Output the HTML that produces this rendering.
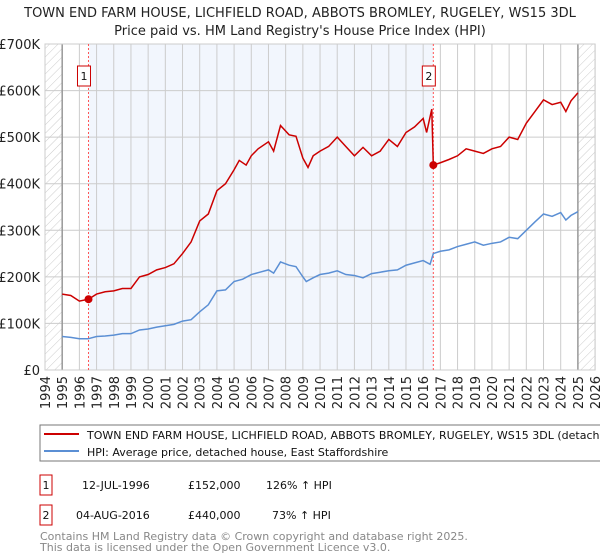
<!DOCTYPE html>
<html><head><meta charset="utf-8"><style>
body{margin:0;width:600px;height:560px;background:#fff;font-family:"Liberation Sans","DejaVu Sans",sans-serif;overflow:hidden}
svg{position:absolute;left:0;top:0}
</style></head><body>
<svg width="600" height="560" xmlns="http://www.w3.org/2000/svg" font-family="DejaVu Sans, Liberation Sans, sans-serif">
<defs><pattern id="hatch" width="6" height="6" patternUnits="userSpaceOnUse" patternTransform="rotate(45)"><line x1="0" y1="0" x2="0" y2="6" stroke="#ccc" stroke-width="1"/></pattern></defs>
<text x="300" y="17" text-anchor="middle" font-size="13" fill="#222">TOWN END FARM HOUSE, LICHFIELD ROAD, ABBOTS BROMLEY, RUGELEY, WS15 3DL</text>
<text x="300" y="35" text-anchor="middle" font-size="13" fill="#222">Price paid vs. HM Land Registry's House Price Index (HPI)</text>
<g id="plot"></g>
<g>
<rect x="40" y="425" width="570" height="36" fill="#fff" stroke="#777"/>
<line x1="44" y1="434" x2="79" y2="434" stroke="#cc0000" stroke-width="2"/>
<text x="87" y="439" font-size="11" fill="#111">TOWN END FARM HOUSE, LICHFIELD ROAD, ABBOTS BROMLEY, RUGELEY, WS15 3DL (detached</text>
<line x1="44" y1="451" x2="79" y2="451" stroke="#5b8fd4" stroke-width="2"/>
<text x="87" y="456" font-size="11" fill="#111">HPI: Average price, detached house, East Staffordshire</text>
</g>
<g font-size="11" fill="#111">
<rect x="40" y="475" width="12" height="20" fill="#fff" stroke="#cc0000"/><text x="46" y="489" text-anchor="middle">1</text>
<text x="82" y="489">12-JUL-1996</text><text x="188" y="489">£152,000</text><text x="266" y="489">126% ↑ HPI</text>
</g>
<g font-size="11" fill="#111">
<rect x="40" y="505" width="12" height="20" fill="#fff" stroke="#cc0000"/><text x="46" y="519" text-anchor="middle">2</text>
<text x="76" y="519">04-AUG-2016</text><text x="188" y="519">£440,000</text><text x="272" y="519">73% ↑ HPI</text>
</g>
<text x="40" y="540" font-size="11" fill="#888">Contains HM Land Registry data © Crown copyright and database right 2025.</text>
<text x="40" y="551" font-size="11" fill="#888">This data is licensed under the Open Government Licence v3.0.</text>
</svg>
<script>
const hpiYears=[1995,1995.5,1996,1996.5,1997,1997.5,1998,1998.5,1999,1999.5,2000,2000.5,2001,2001.5,2002,2002.5,2003,2003.5,2004,2004.5,2005,2005.5,2006,2006.5,2007,2007.3,2007.7,2008.2,2008.6,2009,2009.2,2009.6,2010,2010.5,2011,2011.5,2012,2012.5,2013,2013.5,2014,2014.5,2015,2015.5,2016,2016.4,2016.59,2017,2017.5,2018,2018.5,2019,2019.5,2020,2020.5,2021,2021.5,2022,2022.5,2023,2023.5,2024,2024.3,2024.6,2025];
const hpiValues=[72,70,67,67,72,73,75,78,78,86,88,92,95,98,105,108,125,140,170,172,190,195,205,210,215,208,232,225,222,200,190,198,205,208,213,205,203,198,207,210,213,215,225,230,235,227,250,255,258,265,270,275,268,272,275,285,282,300,318,335,330,338,322,332,340];
const priceYears=[1995,1995.5,1996,1996.53,1997,1997.5,1998,1998.5,1999,1999.5,2000,2000.5,2001,2001.5,2002,2002.5,2003,2003.5,2004,2004.5,2005,2005.3,2005.7,2006,2006.4,2007,2007.3,2007.7,2008.2,2008.6,2009,2009.3,2009.6,2010,2010.5,2011,2011.5,2012,2012.5,2013,2013.5,2014,2014.5,2015,2015.5,2016,2016.2,2016.5,2016.59,2017,2017.5,2018,2018.5,2019,2019.5,2020,2020.5,2021,2021.5,2022,2022.5,2023,2023.5,2024,2024.3,2024.6,2025];
const priceValues=[163,160,148,152,163,168,170,175,175,200,205,215,220,228,250,275,320,335,385,400,430,450,440,460,475,490,470,525,505,502,455,435,460,470,480,500,480,460,478,460,470,495,480,510,522,540,510,560,440,445,452,460,475,470,465,475,480,500,495,530,555,580,570,575,555,578,595];
const yTicks=[0,100,200,300,400,500,600,700];
const yTickLabels=["£0","£100K","£200K","£300K","£400K","£500K","£600K","£700K"];
const xTicks=[1994,1995,1996,1997,1998,1999,2000,2001,2002,2003,2004,2005,2006,2007,2008,2009,2010,2011,2012,2013,2014,2015,2016,2017,2018,2019,2020,2021,2022,2023,2024,2025,2026];
const sales=[[1996.53,152],[2016.59,440]];
const saleLabels=["1","2"];
const X=y=>45+(y-1994)*17.19;
const Y=v=>370-v*326/700;
const NS="http://www.w3.org/2000/svg";
const g=document.getElementById('plot');
function el(t,a,p){const e=document.createElementNS(NS,t);for(const k in a)e.setAttribute(k,a[k]);(p||g).appendChild(e);return e;}
let r=el('rect',{x:X(1994),y:Y(700),width:X(2026)-X(1994),height:Y(0)-Y(700),fill:'#fff'});


let s=el('rect',{x:X(sales[0][0]),y:Y(700),width:X(sales[1][0])-X(sales[0][0]),height:Y(0)-Y(700),fill:'#f2f6fd'});


el('rect',{x:X(1994),y:Y(700),width:X(1995)-X(1994),height:Y(0)-Y(700),fill:'url(#hatch)'});
el('rect',{x:X(2025),y:Y(700),width:X(2026)-X(2025),height:Y(0)-Y(700),fill:'url(#hatch)'});
xTicks.forEach(t=>{el('line',{x1:X(t),x2:X(t),y1:Y(700),y2:Y(0),stroke:'#ccc'});
 const tx=el('text',{x:0,y:0,'font-size':13,fill:'#222','text-anchor':'end',transform:`translate(${X(t)+5},${Y(0)+6}) rotate(-90)`});tx.textContent=t;
 
 });
yTicks.forEach((t,i)=>{el('line',{x1:X(1994),x2:X(2026),y1:Y(t),y2:Y(t),stroke:'#ccc'});
 const tx=el('text',{x:40,y:Y(t)+5,'font-size':13,fill:'#222','text-anchor':'end'});tx.textContent=yTickLabels[i];
 
 });
el('line',{x1:X(1995),x2:X(1995),y1:Y(700),y2:Y(0),stroke:'#999','stroke-width':1.5});
el('line',{x1:X(2025),x2:X(2025),y1:Y(700),y2:Y(0),stroke:'#999','stroke-width':1.5});
el('rect',{x:X(1994),y:Y(700),width:X(2026)-X(1994),height:Y(0)-Y(700),fill:'none',stroke:'#ccc'});
sales.forEach((sv,i)=>{el('line',{x1:X(sv[0]),x2:X(sv[0]),y1:Y(700),y2:Y(0),stroke:'#f55','stroke-dasharray':'2,2'});
 const b=el('rect',{x:X(sv[0])-11,y:Y(700)+22,width:13,height:20,fill:'#fff',stroke:'#cc0000'});
 
 
 const t=el('text',{x:X(sv[0])-4.5,y:Y(700)+36,'font-size':11,'text-anchor':'middle',fill:'#111'});t.textContent=saleLabels[i];});
const hp=el('polyline',{points:hpiYears.map((y,i)=>X(y)+','+Y(hpiValues[i])).join(' '),fill:'none',stroke:'#5b8fd4','stroke-width':1.5});


const pp=el('polyline',{points:priceYears.map((y,i)=>X(y)+','+Y(priceValues[i])).join(' '),fill:'none',stroke:'#cc0000','stroke-width':1.5});


sales.forEach(sv=>{const c=el('circle',{cx:X(sv[0]),cy:Y(sv[1]),r:4,fill:'#cc0000'});
 
 });
</script>
</body></html>
